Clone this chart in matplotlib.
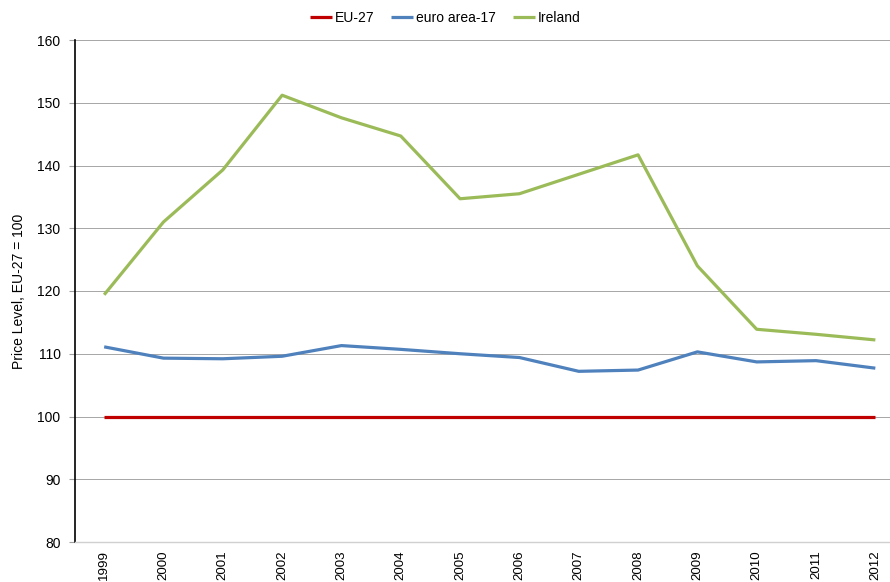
import numpy as np
import matplotlib
matplotlib.use("Agg")
from matplotlib import pyplot as plt

years = ["1999", "2000", "2001", "2002", "2003", "2004", "2005",
         "2006", "2007", "2008", "2009", "2010", "2011", "2012"]
eu27 = [100, 100, 100, 100, 100, 100, 100, 100, 100, 100, 100, 100, 100, 100]
euro_area = [111.1, 109.3, 109.2, 109.6, 111.3, 110.7, 110.0,
             109.4, 107.2, 107.4, 110.3, 108.7, 108.9, 107.7]
ireland = [119.4, 131.0, 139.3, 151.2, 147.6, 144.7, 134.7,
           135.5, 138.6, 141.7, 124.0, 113.9, 113.1, 112.2]

plt.rcParams['font.family'] = ['Liberation Sans', 'DejaVu Sans']

fig = plt.figure(figsize=(8.9, 5.82), dpi=100)
# plot area runs past the right edge of the picture, like the source
ax = fig.add_axes([74.5 / 890, 40 / 582, (905 - 74.5) / 890, 502 / 582])

x = np.arange(len(years))
ax.plot(x, eu27, color="#C00000", lw=2.3, label="EU-27", solid_capstyle="butt")
ax.plot(x, euro_area, color="#4F81BD", lw=2.3, label="euro area-17", solid_capstyle="butt")
ax.plot(x, ireland, color="#9BBB59", lw=2.3, label="Ireland", solid_capstyle="butt")

ax.set_xlim(-0.5, len(years) - 0.5)
ax.set_ylim(80, 160)
ax.set_yticks(np.arange(80, 161, 10))
ax.set_xticks(x)
ax.set_xticklabels(years, rotation=90, fontsize=9.6)
ax.tick_params(axis="y", labelsize=10, length=4, color="#A0A0A0", pad=6)
ax.tick_params(axis="x", length=0, pad=6)

ax.yaxis.grid(True, color="#A6A6A6", lw=0.7)
ax.set_axisbelow(True)
for s in ["top", "right"]:
    ax.spines[s].set_visible(False)
ax.spines["left"].set_color("black")
ax.spines["left"].set_linewidth(1.2)
ax.spines["bottom"].set_color("#D0D0D0")
ax.spines["bottom"].set_linewidth(1.0)

ax.set_ylabel("Price Level, EU-27 = 100", fontsize=10, labelpad=8)

fig.legend(loc="center", bbox_to_anchor=(445 / 890, 1 - 18 / 582), ncol=3,
           frameon=False, fontsize=10, handlelength=1.6, handletextpad=0.2,
           columnspacing=1.2)

fig.savefig("out.png", dpi=100)
